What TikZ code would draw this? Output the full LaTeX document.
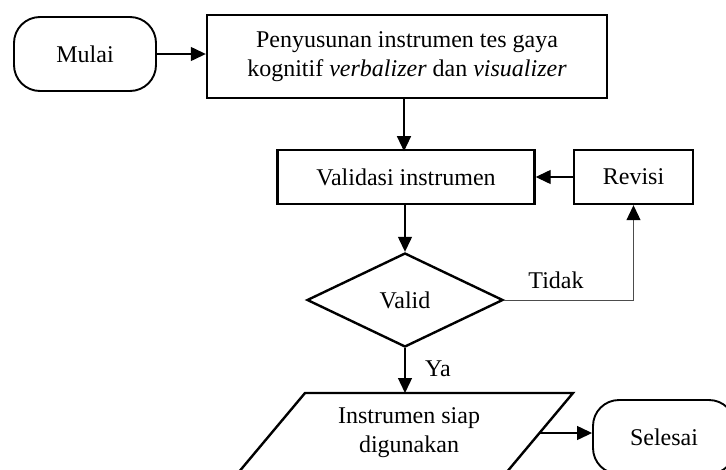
\documentclass[tikz,border=0pt]{standalone}
\usepackage{fontspec}
\setmainfont{Liberation Serif}
\usetikzlibrary{shapes.geometric,arrows.meta}
\begin{document}
\begin{tikzpicture}[x=1pt,y=-1pt,
  every node/.style={font=\fontsize{24}{29}\selectfont, inner sep=0pt},
  procbox/.style={draw, line width=2.4pt, rectangle},
  termbox/.style={draw, line width=1.9pt, rounded corners=26pt, minimum width=142pt, minimum height=74pt},
  decbox/.style={draw, line width=2.4pt, diamond, minimum width=196pt, minimum height=94pt},
  conn/.style={line width=1.3pt, -{Triangle[length=15pt,width=14pt]}},
  thinconn/.style={line width=1pt, draw=black!70, -{Triangle[length=15pt,width=14pt,color=black]}},
  lbl/.style={font=\fontsize{24}{29}\selectfont}
]
\clip (0,0) rectangle (726,469);
\node[termbox] (mulai) at (85,54) {Mulai};
\node[procbox, minimum width=400pt, minimum height=83pt, align=center] (penyusunan) at (407,56.5)
  {Penyusunan instrumen tes gaya\\kognitif \textit{verbalizer} dan \textit{visualizer}};
\node[procbox, minimum width=257pt, minimum height=54pt] (validasi) at (406,177) {Validasi instrumen};
\node[procbox, minimum width=119pt, minimum height=54pt] (revisi) at (633.5,177) {Revisi};
\node[decbox] (valid) at (405,300) {Valid};
% parallelogram (output)
\coordinate (ptl) at (305,393);
\coordinate (ptr) at (573,393);
\coordinate (pbr) at (506,473);
\coordinate (pbl) at (238,473);
\coordinate (partop) at (439,393);
\coordinate (pareast) at (540,433);
\draw[line width=2.4pt, line join=miter] (ptl) -- (ptr) -- (pbr) -- (pbl) -- cycle;
\node[align=center] (siap) at (409,433) {Instrumen siap\\digunakan};
\node[termbox] (selesai) at (664,437) {Selesai};
% connectors
\draw[conn] (mulai.east) -- (mulai.east -| penyusunan.west);
\draw[conn] (penyusunan.south -| validasi.north) ++(-2,0) -- ++(0,52);
\draw[conn] (revisi.west) -- (validasi.east);
\draw[conn] (validasi.south -| valid.north) -- (valid.north);
\draw[thinconn] (valid.east) -| (revisi.south);
\node[lbl] (tidak) at (556,280) {Tidak};
\draw[conn] (valid.south) -- (valid.south |- partop);
\node[lbl] (ya) at (438,369) {Ya};
\draw[conn] (pareast) -- (pareast -| selesai.west);
\end{tikzpicture}
\end{document}
